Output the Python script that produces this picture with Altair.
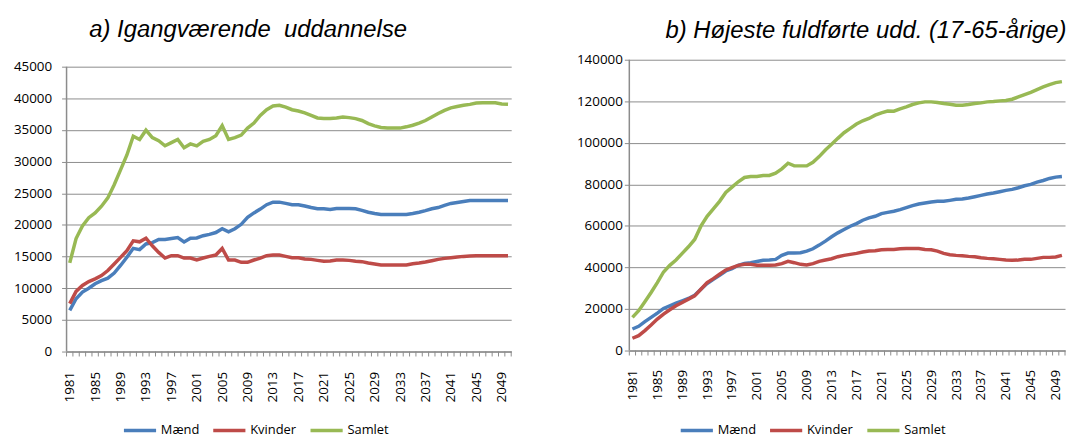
import altair as alt
import pandas as pd

years = list(range(1981, 2051))
series_names = ["Mænd", "Kvinder", "Samlet"]
series_colors = ["#4A7EBB", "#BE4B48", "#98B954"]

title_a = "a) Igangværende\u00a0 uddannelse"
title_b = "b) Højeste fuldførte udd. (17-65-årige)"

a_maend = [
    6500, 8350, 9400, 10000, 10700, 11200, 11600, 12400, 13600, 14900,
    16300, 16100, 17000, 17200, 17700, 17700, 17850, 18000, 17300, 17900,
    17950, 18300, 18500, 18800, 19400, 18900, 19400, 20100, 21200, 21900,
    22500, 23200, 23600, 23600, 23400, 23200, 23200, 23000, 22750, 22550,
    22550, 22440, 22600, 22600, 22600, 22550, 22300, 22000, 21800, 21650,
    21650, 21650, 21650, 21650, 21800, 22000, 22250, 22550, 22750, 23100,
    23400, 23550, 23700, 23850, 23850, 23850, 23850, 23850, 23850, 23850,
]
a_kvinder = [
    7570, 9500, 10440, 11060, 11480, 12000, 12790, 13830, 14870, 15920,
    17490, 17330, 17900, 16700, 15660, 14770, 15140, 15140, 14770, 14770,
    14460, 14770, 15030, 15240, 16280, 14460, 14460, 14090, 14090, 14460,
    14770, 15140, 15240, 15240, 15030, 14820, 14820, 14610, 14560, 14400,
    14250, 14300, 14460, 14460, 14400, 14250, 14200, 13990, 13830, 13670,
    13670, 13670, 13670, 13670, 13880, 13990, 14150, 14350, 14560, 14720,
    14820, 14930, 15030, 15080, 15140, 15140, 15140, 15140, 15140, 15140,
]
a_samlet = [
    14000, 17850, 19830, 21140, 21900, 22960, 24270, 26360, 28700, 31050,
    34030, 33500, 34970, 33800, 33300, 32500, 33000, 33500, 32200, 32800,
    32500, 33200, 33500, 34100, 35700, 33500, 33800, 34200, 35300, 36100,
    37300, 38200, 38800, 38900, 38600, 38200, 38000, 37700, 37300, 36900,
    36800, 36800, 36900, 37050, 36950, 36800, 36500, 36000, 35650, 35400,
    35300, 35300, 35300, 35500, 35750, 36100, 36500, 37050, 37600, 38100,
    38500, 38700, 38900, 39050, 39250, 39300, 39300, 39300, 39100, 39050,
]

b_maend = [
    10370, 11650, 13890, 15960, 18040, 20270, 21550, 22830, 23940, 25060,
    26660, 29530, 32240, 34320, 36230, 38310, 39430, 41020, 41980, 42300,
    42860, 43420, 43580, 43900, 45810, 46930, 46930, 47090, 47890, 49000,
    50760, 52670, 54750, 56660, 58260, 59860, 61130, 62730, 63850, 64650,
    65920, 66500, 67040, 67840, 68800, 69750, 70550, 71030, 71510, 71830,
    71830, 72310, 72790, 72950, 73420, 74060, 74700, 75340, 75820, 76460,
    77100, 77580, 78370, 79330, 79970, 81090, 81880, 82840, 83480, 83800,
]
b_kvinder = [
    5910, 7180, 9580, 12290, 15160, 17560, 19630, 21550, 23140, 24740,
    26340, 29530, 32720, 34640, 36710, 38790, 39900, 41020, 41500, 41500,
    41100, 41020, 41020, 41180, 41820, 42940, 42300, 41500, 41180, 41820,
    42940, 43580, 44210, 45170, 45810, 46290, 46770, 47410, 47890, 48050,
    48530, 48680, 48680, 49000, 49160, 49160, 49160, 48680, 48530, 47890,
    46770, 46130, 45810, 45650, 45330, 45170, 44690, 44370, 44210, 43900,
    43580, 43420, 43580, 43900, 43900, 44370, 44850, 44850, 45010, 45810,
]
b_samlet = [
    15960, 19150, 23460, 27930, 32720, 37830, 41020, 43580, 46770, 49960,
    53470, 59860, 64650, 68160, 71830, 76140, 78690, 81240, 83320, 83800,
    83800, 84280, 84280, 85400, 87470, 90180, 88900, 88900, 88900, 90660,
    93370, 96570, 99280, 102150, 104870, 106940, 109020, 110620, 111730, 113330,
    114450, 115330, 115250, 116360, 117320, 118440, 119240, 119710, 119710, 119390,
    118910, 118600, 118100, 118100, 118440, 118910, 119240, 119710, 119870, 120190,
    120350, 120990, 122100, 123220, 124340, 125620, 126900, 128020, 128980, 129450,
]

label_years = years[::4]
boundaries = [y - 0.5 for y in years] + [years[-1] + 0.5]

GRID = "#8C8C8C"
FONT = "Open Sans"
TITLE_FONT = "Liberation Sans"


def long_df(m, k, s):
    rows = []
    for name, vals in zip(series_names, [m, k, s]):
        for yr, v in zip(years, vals):
            rows.append({"Aar": yr, "Serie": name, "Antal": v})
    return pd.DataFrame(rows)


def panel(df, title, axis_max, step, dom_max, width, height, title_dx, title_offset,
          legend_x, legend_y, y_extent, y_label_pad, x_label_pad):
    xscale = alt.Scale(domain=[boundaries[0], boundaries[-1]], nice=False, zero=False)
    yscale = alt.Scale(domain=[0, dom_max], nice=False, zero=True)
    xaxis = alt.Axis(values=label_years, format="d", labelAngle=-90,
                     ticks=False, tickSize=0, grid=False, title=None,
                     labelOverlap=False, labelBound=False,
                     labelPadding=x_label_pad, labelFont=FONT,
                     labelFontSize=13.5, labelColor="#000000",
                     domainColor=GRID, domainWidth=1.5)
    yaxis = alt.Axis(values=list(range(0, axis_max + 1, step)), title=None,
                     format="d", labelOverlap=False,
                     domain=False, tickSize=5, tickColor=GRID,
                     gridColor=GRID, gridWidth=1,
                     labelPadding=y_label_pad, labelFont=FONT,
                     labelFontSize=13.5, labelColor="#000000",
                     minExtent=y_extent, maxExtent=y_extent)
    color = alt.Color(
        "Serie:N",
        scale=alt.Scale(domain=series_names, range=series_colors),
        legend=alt.Legend(
            title=None, orient="none", legendX=legend_x, legendY=legend_y,
            direction="horizontal", symbolType="stroke", symbolSize=1050,
            symbolStrokeWidth=3.5, labelFont=FONT, labelFontSize=13,
            labelColor="#000000", labelOffset=3, columnPadding=6,
            gridAlign="none",
        ),
    )
    lines = alt.Chart(df).mark_line(strokeWidth=3.5).encode(
        x=alt.X("Aar:Q", scale=xscale, axis=xaxis),
        y=alt.Y("Antal:Q", scale=yscale, axis=yaxis),
        color=color,
    )
    ticks = alt.Chart(pd.DataFrame({"b": boundaries})).mark_rule(
        color=GRID, strokeWidth=1
    ).encode(
        x=alt.X("b:Q", scale=xscale, axis=xaxis),
        y=alt.value(height),
        y2=alt.value(height + 5),
    )
    yline = alt.Chart(pd.DataFrame({"x0": [boundaries[0]], "y0": [0], "y1": [axis_max]})).mark_rule(
        color=GRID, strokeWidth=1.5
    ).encode(
        x=alt.X("x0:Q", scale=xscale, axis=xaxis),
        y=alt.Y("y0:Q", scale=yscale, axis=yaxis),
        y2="y1:Q",
    )
    return alt.layer(lines, ticks, yline).properties(
        width=width, height=height,
        title=alt.TitleParams(title, font=TITLE_FONT, fontSize=24,
                              fontStyle="italic", fontWeight="normal",
                              color="#000000", anchor="middle", frame="group",
                              dx=title_dx, offset=title_offset),
    )


left = panel(long_df(a_maend, a_kvinder, a_samlet), title_a, 45000, 5000,
             45000 * 294 / 287, 448, 294, -41, 17.5, 56, 355.5, 59, 10, 20)
right = panel(long_df(b_maend, b_kvinder, b_samlet), title_b, 140000, 20000,
              140000, 439, 293, 19, 9.5, 50, 355.5, 60, 2, 19)

chart = alt.hconcat(left, right, spacing=55).resolve_scale(
    color="independent", x="independent", y="independent"
).resolve_legend(color="independent").properties(
    padding={"left": 0, "top": 8.5, "right": 0, "bottom": 0}
).configure_view(stroke=None)

chart.save("out.html", embed_options={"renderer": "svg", "actions": False})
